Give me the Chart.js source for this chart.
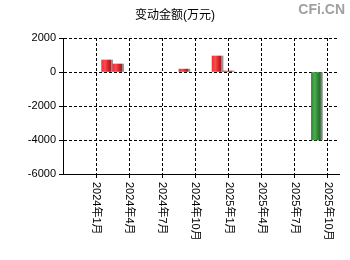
<!DOCTYPE html>
<html><head><meta charset="utf-8">
<script src="https://cdn.jsdelivr.net/npm/chart.js@4/dist/chart.umd.min.js"></script>
<style>html,body{margin:0;padding:0;background:#fff;}#wrap{position:relative;width:350px;height:260px;}</style>
</head><body><div id="wrap"><canvas id="c" width="350" height="260"></canvas></div>
<script>
const months = ['2023年10月','2023年11月','2023年12月','2024年1月','2024年2月','2024年3月','2024年4月','2024年5月','2024年6月','2024年7月','2024年8月','2024年9月','2024年10月','2024年11月','2024年12月','2025年1月','2025年2月','2025年3月','2025年4月','2025年5月','2025年6月','2025年7月','2025年8月','2025年9月','2025年10月','2025年11月'];
const shownLabels = ['2024年1月','2024年4月','2024年7月','2024年10月','2025年1月','2025年4月','2025年7月','2025年10月'];
const values = [null,null,null,null,706,470,null,null,null,null,null,170,null,null,941,60,null,null,null,null,null,null,null,-4000,null,null];
const yTicks = [-6000,-4000,-2000,0,2000];
const titleText = '变动金额(万元)';
const watermark = 'CFi.CN';

const FONT = "'Liberation Sans', Arial, 'Noto Sans CJK SC', sans-serif";

function barGradient(ctx){
  const chart = ctx.chart;
  const v = ctx.raw;
  const pos = v >= 0;
  const solid = pos ? '#e8262a' : '#2f8f33';
  if (!chart.chartArea || !chart.scales.x) return solid;
  const x = chart.scales.x.getPixelForValue(ctx.dataIndex);
  const w = chart.scales.x.width / (months.length - 1);
  const x0 = x - w/2, x1 = x + w/2;
  const g = chart.ctx.createLinearGradient(x0, 0, x1, 0);
  if (pos) {
    g.addColorStop(0, '#f03035');
    g.addColorStop(0.3, '#ff4a4e');
    g.addColorStop(0.65, '#c81e22');
    g.addColorStop(0.8, '#a02226');
    g.addColorStop(0.85, '#8a8a8a');
    g.addColorStop(1, '#9a9a9a');
  } else {
    g.addColorStop(0, '#2e8a32');
    g.addColorStop(0.3, '#4aad4e');
    g.addColorStop(0.65, '#2a7c2e');
    g.addColorStop(0.8, '#266e2a');
    g.addColorStop(0.85, '#7a7a7a');
    g.addColorStop(1, '#909090');
  }
  return g;
}

const labelPlugin = {
  id: 'rotLabels',
  afterDraw(chart){
    const c = chart.ctx, xs = chart.scales.x;
    c.save();
    c.font = '11px ' + FONT;
    c.fillStyle = '#000';
    c.textAlign = 'left';
    c.textBaseline = 'middle';
    months.forEach((m, i) => {
      if (!shownLabels.includes(m)) return;
      const x = xs.getPixelForValue(i);
      c.save();
      c.translate(x, chart.chartArea.bottom + 8);
      c.rotate(Math.PI/2);
      c.fillText(m, 0, 0);
      c.restore();
    });
    c.font = 'bold 14px ' + FONT;
    c.fillStyle = '#a0a0a0';
    c.textAlign = 'right';
    c.textBaseline = 'top';
    c.fillText(watermark, 345, 3);
    c.restore();
  }
};

new Chart(document.getElementById('c'), {
  type: 'bar',
  data: { labels: months, datasets: [{ data: values, backgroundColor: barGradient, borderWidth: 0, barPercentage: 1, categoryPercentage: 1 }] },
  options: {
    responsive: false, animation: false, devicePixelRatio: 1,
    layout: { padding: 0 },
    plugins: {
      legend: { display: false }, tooltip: { enabled: false },
      title: { display: true, text: titleText, color: '#000', font: { family: FONT, size: 12, weight: 'normal' }, padding: { top: 8, bottom: 15.6 } }
    },
    scales: {
      x: {
        type: 'category', offset: false,
        grid: { offset: false, drawTicks: true, tickLength: 4, color: ctx => (ctx.index > 0 && shownLabels.includes(months[ctx.index])) ? '#000' : 'rgba(0,0,0,0)', lineWidth: 1 },
        border: { display: true, color: '#000', width: 1, dash: [3,2] },
        ticks: { display: true, color: 'rgba(0,0,0,0)', autoSkip: false, maxRotation: 0, minRotation: 0, font: { size: 1 }, callback: () => '' },
        afterFit: s => { s.height = 86; }
      },
      y: {
        min: -6000, max: 2000,
        afterBuildTicks: s => { s.ticks = yTicks.map(v => ({ value: v })); },
        grid: { color: '#000', tickLength: 4, lineWidth: 1 },
        border: { display: true, color: '#000', width: 1, dash: [3,2] },
        ticks: { color: '#000', padding: 3, font: { family: FONT, size: 11 }, callback: v => String(v) },
        afterFit: s => { s.width = 63; }
      },
      yr: {
        position: 'right', min: -6000, max: 2000, display: true,
        grid: { display: false, drawTicks: false }, border: { display: false },
        ticks: { display: false },
        afterFit: s => { s.width = 11; }
      }
    }
  },
  plugins: [labelPlugin]
});
</script></body></html>
